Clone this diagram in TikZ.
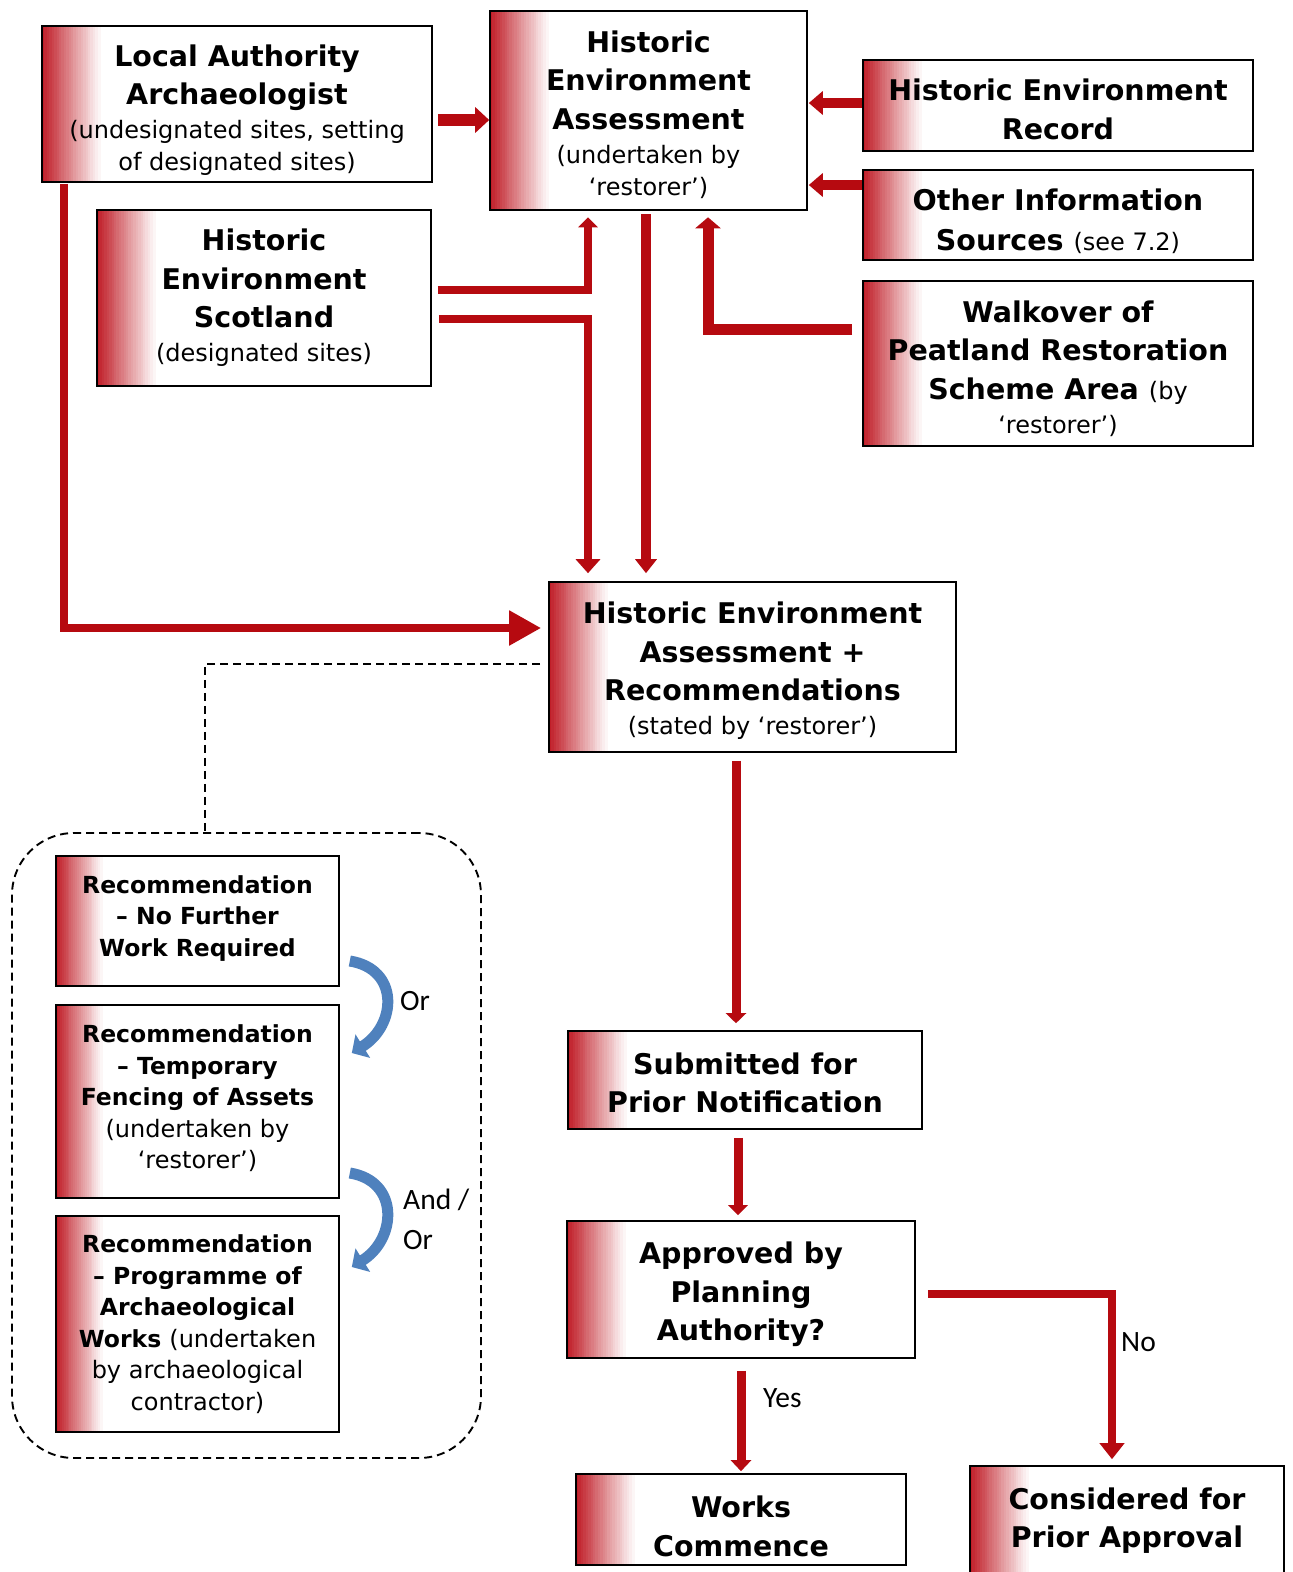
\documentclass[tikz,border=0pt]{standalone}
\usepackage{fontspec}
\setmainfont{DejaVu Sans}
\newfontfamily\calib{Carlito}
\usetikzlibrary{arrows.meta,calc}
\definecolor{arrred}{RGB}{182,10,16}
\definecolor{gradred}{RGB}{192,30,40}
\definecolor{arrblue}{RGB}{79,129,189}
\newcommand\fB{\fontsize{28.5}{38.5}\selectfont\bfseries}
\newcommand\fR{\fontsize{24}{32}\selectfont\mdseries}
\newcommand\fS{\fontsize{23.5}{31.5}\selectfont\bfseries}
\newcommand\tp[1]{\rule{0pt}{#1pt}}
\newcommand\bp[1]{\rule[-#1pt]{0pt}{0pt}}
\begin{document}
\begin{tikzpicture}[x=1pt,y=-1pt,
  gbox/.style={draw=black, line width=1.6pt, fill=white, inner sep=0pt, align=center, font=\fB,
    path picture={\foreach \i in {0,...,23}{\pgfmathtruncatemacro\pc{100-100*\i/24}
      \fill[gradred!\pc] ([xshift=\i*#1/24]path picture bounding box.north west) rectangle ([xshift=(\i+1)*#1/24+0.6pt]path picture bounding box.south west);}}},
  gbox/.default=58pt,
  sz/.style 2 args={minimum width=#1pt, minimum height=#2pt},
  rbox/.style={gbox=46pt, font=\fS},
  rarr/.style={draw=arrred, line width=#1},
  lbl/.style={font=\calib\fontsize{29.5}{40}\selectfont, inner sep=0pt},
  barr/.style={draw=arrblue, line width=11pt, -{Triangle[width=27pt,length=13pt]}},
  dsh/.style={draw=black, line width=1.9pt, dash pattern=on 8pt off 5pt}
]
\useasboundingbox (0,0) rectangle (1293,1572);
\fill[white] (0,0) rectangle (1293,1572);

% group of recommendations
\node[dsh, rounded corners=62pt, sz={469}{625}] (grp) at (246.5,1145.5) {};

% boxes
\node[gbox, sz={390}{156}] (laa) at (237,104) {\tp{33.7}Local Authority\\Archaeologist\\[-4.5pt]\fR(undesignated sites, setting\\[-6.5pt]\fR of designated sites)};
\node[gbox, sz={317}{199}] (hea) at (648.5,110.5) {\tp{29.7}Historic\\Environment\\Assessment\\[-4.5pt]\fR(undertaken by\\[-6.5pt]\fR ‘restorer’)};
\node[gbox, sz={390}{91}] (her) at (1058,105.5) {\tp{29.7}Historic Environment\\Record};
\node[gbox, sz={390}{90}] (ois) at (1058,215) {\tp{33.7}Other Information\\[1pt]Sources {\fR(see 7.2)}};
\node[gbox, sz={390}{165}] (walk) at (1058,363.5) {\tp{31.7}Walkover of\\Peatland Restoration\\Scheme Area {\fR(by}\\[-4.5pt]\fR ‘restorer’)};
\node[gbox, sz={334}{176}] (hes) at (264,298) {Historic\\Environment\\Scotland\\[-4.5pt]\fR(designated sites)};
\node[gbox, sz={407}{170}] (hrec) at (752.5,667) {\tp{29.7}Historic Environment\\Assessment +\\Recommendations\\[-4.5pt]\fR(stated by ‘restorer’)};

\node[rbox, sz={283}{130}] (rec1) at (197.5,921) {Recommendation\\– No Further\\Work Required\bp{10.6}};
\node[rbox, sz={283}{193}] (rec2) at (197.5,1101.5) {Recommendation\\– Temporary\\Fencing of Assets\\\fR(undertaken by\\\fR ‘restorer’)\bp{9.1}};
\node[rbox, sz={283}{216}] (rec3) at (197.5,1324) {Recommendation\\– Programme of\\Archaeological\\Works {\fR(undertaken}\\\fR by archaeological\\\fR contractor)};

\node[gbox, sz={354}{98}] (sub) at (745,1080) {\tp{27.7}Submitted for\\Prior Notification};
\node[gbox, sz={348}{137}] (app) at (741,1289.5) {\tp{31.7}Approved by\\Planning\\Authority?};
\node[gbox, sz={330}{91}] (works) at (741,1519.5) {\tp{35.7}Works\\Commence};
\node[gbox, sz={314}{134}] (cons) at (1127,1533) {\tp{29.7}Considered for\\Prior Approval\\\mbox{}};

% dashed link
\draw[dsh] ($(hrec.west)+(-8,-3)$) -| ($(grp.north)+(-41.5,0)$);

% red connectors
\draw[rarr=12pt, -{Triangle[width=25pt,length=14pt]}] ($(laa.east)+(5,16)$) -- ($(hea.west)+(0,9.5)$);
\draw[rarr=10pt, -{Triangle[width=23pt,length=14pt]}] ($(her.west)+(0,-2.5)$) -- ($(hea.east)+(1,-7.5)$);
\draw[rarr=10pt, -{Triangle[width=23pt,length=14pt]}] ($(ois.west)+(0,-30)$) -- ($(hea.east)+(1,74.5)$);
\draw[rarr=8pt, -{Triangle[width=19pt,length=10pt]}] ($(hes.east)+(6,-8)$) -| ($(hea.south)+(-60.5,6.5)$);
\draw[rarr=8pt, -{Triangle[width=24pt,length=14pt]}] ($(hes.east)+(7,21)$) -| ($(hrec.north)+(-164.5,-8)$);
\draw[rarr=10pt, -{Triangle[width=21pt,length=14pt]}] ($(hea.south)+(-2.5,3.5)$) -- ($(hrec.north)+(-106.5,-8)$);
\draw[rarr=11pt, -{Triangle[width=25pt,length=11pt]}] ($(walk.west)+(-10,-34.5)$) -| ($(hea.south)+(59.5,6.5)$);
\draw[rarr=8pt, -{Triangle[width=33pt,length=32pt]}] ($(laa.south)+(-173,1)$) |- ($(hrec.west)+(-7,-39)$);
\draw[rarr=9pt, -{Triangle[width=20pt,length=10pt]}] ($(hrec.south)+(-16.5,8)$) -- ($(sub.north)+(-9,-7)$);
\draw[rarr=9pt, -{Triangle[width=19pt,length=10pt]}] ($(sub.south)+(-7,8)$) -- ($(app.north)+(-3,-5)$);
\draw[rarr=9pt, -{Triangle[width=20pt,length=11pt]}] ($(app.south)+(0,12)$) -- ($(works.north)+(0,-2)$);
\draw[rarr=8pt, -{Triangle[width=24pt,length=16pt]}] ($(app.east)+(12,4.5)$) -| ($(cons.north)+(-15,-6)$);

% blue curved arrows
\coordinate (b1s) at ($(rec1.east)+(10,40)$);
\coordinate (b1e) at ($(rec2.east)+(12,-48.5)$);
\coordinate (b2s) at ($(rec2.east)+(10,71.5)$);
\coordinate (b2e) at ($(rec3.east)+(12,-57)$);
\draw[barr] (b1s) .. controls +(50,8) and +(45,-28) .. (b1e);
\draw[barr] (b2s) .. controls +(50,8) and +(45,-28) .. (b2e);

% labels
\node[lbl, anchor=west] (lor) at (400,1001) {Or};
\node[lbl, anchor=west, align=left] (landor) at (403,1219) {And /\\Or};
\node[lbl, anchor=west] (lyes) at (763,1398) {Yes};
\node[lbl, anchor=west] (lno) at (1121,1342) {No};
\end{tikzpicture}
\end{document}
